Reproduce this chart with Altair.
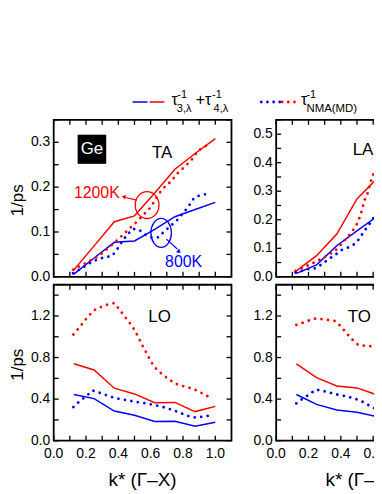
import altair as alt
import pandas as pd

FONT = "Liberation Sans"
RED = "#ff0000"
BLUE = "#0000ff"

# ---------------- data ----------------
k_line = [0.125, 0.25, 0.375, 0.5, 0.625, 0.75, 0.875, 1.0]

# TA
ta_red_line = [0.015, 0.069, 0.123, 0.136, 0.187, 0.240, 0.275, 0.308]
ta_blue_line = [0.006, 0.042, 0.077, 0.080, 0.106, 0.134, 0.150, 0.166]
ta_red_md_k = [0.12, 0.2, 0.28, 0.36, 0.44, 0.52, 0.56, 0.6, 0.65, 0.69, 0.73, 0.76, 0.85, 0.89, 0.93, 0.97]
ta_red_md = [0.016, 0.031, 0.047, 0.071, 0.098, 0.125, 0.140, 0.155, 0.185, 0.202, 0.214, 0.229, 0.259, 0.280, 0.290, 0.296]
ta_blue_md_k = [0.12, 0.2, 0.24, 0.28, 0.33, 0.36, 0.39, 0.42, 0.45, 0.49, 0.53, 0.56, 0.6, 0.65, 0.68, 0.76, 0.83, 0.87, 0.9, 0.97]
ta_blue_md = [0.008, 0.025, 0.034, 0.040, 0.045, 0.046, 0.060, 0.077, 0.092, 0.107, 0.105, 0.095, 0.088, 0.088, 0.100, 0.125, 0.155, 0.177, 0.181, 0.187]

# LA
la_red_line = [0.021, 0.074, 0.150, 0.273, 0.345, 0.410, 0.450, 0.490]
la_blue_line = [0.012, 0.042, 0.109, 0.161, 0.212, 0.250, 0.280, 0.310]
la_red_md_k = [0.12, 0.2, 0.283, 0.365, 0.43, 0.465, 0.495, 0.51, 0.527, 0.547, 0.565, 0.587, 0.602, 0.622, 0.66, 0.75, 0.85, 0.95, 1.0]
la_red_md = [0.021, 0.041, 0.064, 0.091, 0.132, 0.155, 0.179, 0.199, 0.226, 0.269, 0.292, 0.337, 0.362, 0.386, 0.400, 0.420, 0.440, 0.460, 0.470]
la_blue_md_k = [0.12, 0.2, 0.243, 0.283, 0.324, 0.365, 0.405, 0.446, 0.486, 0.515, 0.543, 0.572, 0.602, 0.628, 0.7, 0.8, 0.9, 1.0]
la_blue_md = [0.015, 0.027, 0.030, 0.044, 0.062, 0.077, 0.094, 0.103, 0.115, 0.134, 0.159, 0.181, 0.206, 0.228, 0.260, 0.290, 0.310, 0.330]

# LO
lo_red_line = [0.74, 0.68, 0.505, 0.45, 0.365, 0.368, 0.28, 0.33]
lo_blue_line = [0.445, 0.405, 0.285, 0.245, 0.185, 0.188, 0.14, 0.178]
lo_red_md_k = [0.122, 0.155, 0.187, 0.219, 0.256, 0.296, 0.335, 0.375, 0.408, 0.438, 0.469, 0.497, 0.519, 0.539, 0.56, 0.582, 0.602, 0.63, 0.667, 0.708, 0.748, 0.789, 0.829, 0.87, 0.91, 0.951]
lo_red_md = [1.022, 1.083, 1.146, 1.206, 1.26, 1.289, 1.311, 1.324, 1.26, 1.197, 1.136, 1.073, 1.01, 0.946, 0.883, 0.822, 0.759, 0.698, 0.645, 0.597, 0.552, 0.53, 0.514, 0.495, 0.464, 0.429]
lo_blue_md_k = [0.122, 0.159, 0.199, 0.24, 0.28, 0.32, 0.361, 0.402, 0.442, 0.483, 0.519, 0.56, 0.6, 0.641, 0.683, 0.724, 0.764, 0.805, 0.843, 0.884, 0.925, 0.961]
lo_blue_md = [0.324, 0.378, 0.426, 0.483, 0.464, 0.441, 0.419, 0.403, 0.393, 0.381, 0.371, 0.362, 0.35, 0.337, 0.321, 0.302, 0.279, 0.254, 0.232, 0.222, 0.232, 0.241]

# TO
to_red_line = [0.74, 0.607, 0.527, 0.508, 0.44, 0.40, 0.37, 0.36]
to_blue_line = [0.444, 0.349, 0.295, 0.273, 0.232, 0.21, 0.19, 0.18]
to_red_md_k = [0.125, 0.166, 0.207, 0.247, 0.288, 0.324, 0.362, 0.399, 0.435, 0.47, 0.506, 0.547, 0.587, 0.626, 0.7, 0.8, 0.9, 1.0]
to_red_md = [1.114, 1.136, 1.159, 1.178, 1.168, 1.162, 1.152, 1.102, 1.035, 0.975, 0.924, 0.914, 0.908, 0.902, 0.88, 0.85, 0.80, 0.75]
to_blue_md_k = [0.125, 0.166, 0.207, 0.247, 0.288, 0.328, 0.368, 0.405, 0.446, 0.486, 0.527, 0.567, 0.608, 0.7, 0.8, 0.9, 1.0]
to_blue_md = [0.359, 0.406, 0.448, 0.492, 0.479, 0.463, 0.448, 0.435, 0.422, 0.406, 0.381, 0.346, 0.311, 0.28, 0.26, 0.25, 0.25]

x_labels = [0.0, 0.2, 0.4, 0.6, 0.8, 1.0]
x_ticks = [0.1 * i for i in range(11)]
ta_labels = [0.0, 0.1, 0.2, 0.3]
ta_ticks = [0.05 * i for i in range(8)]
la_labels = [0.0, 0.1, 0.2, 0.3, 0.4, 0.5]
la_ticks = [0.05 * i for i in range(12)]
bot_labels = [0.0, 0.4, 0.8, 1.2]
bot_ticks = [0.2 * i for i in range(8)]
y_title = "1/ps"
x_title = "k* (Γ–X)"

W = 179
H_TOP = 158
H_BOT = 157
TICK = 5
XDOM = [0, 1.1]

color_scale = alt.Scale(domain=["1200K", "800K"], range=[RED, BLUE])
one = pd.DataFrame({"a": [0]})


def panel(name, red_line, blue_line, rmk, rm, bmk, bm, ydom, ylabels, yticks,
          height, bottom, left, label_pos, xtitle_cx=None):
    xsc = alt.Scale(domain=XDOM, nice=False, zero=False)
    ysc = alt.Scale(domain=ydom, nice=False, zero=False)

    def X():
        return alt.X("k:Q", scale=xsc, axis=None)

    def Y():
        return alt.Y("v:Q", scale=ysc, axis=None)

    solid = pd.DataFrame({"k": k_line * 2, "v": red_line + blue_line,
                          "T": ["1200K"] * len(k_line) + ["800K"] * len(k_line)})
    md = pd.DataFrame({"k": rmk + bmk, "v": rm + bm,
                       "T": ["1200K"] * len(rmk) + ["800K"] * len(bmk)})

    layers = []
    layers.append(alt.Chart(solid).mark_line(strokeWidth=1.5, clip=True).encode(
        x=X(), y=Y(), color=alt.Color("T:N", scale=color_scale, legend=None), detail="T:N"))
    layers.append(alt.Chart(md).mark_line(strokeWidth=2.8, strokeDash=[0.01, 6.6],
                                          strokeCap="round", clip=True).encode(
        x=X(), y=Y(), color=alt.Color("T:N", scale=color_scale, legend=None), detail="T:N"))

    # inward ticks on all four sides
    xt = pd.DataFrame({"k": x_ticks})
    yt = pd.DataFrame({"v": yticks})
    tk = dict(color="black", strokeWidth=1.3)
    layers.append(alt.Chart(xt).mark_rule(**tk).encode(x=X(), y=alt.value(height - TICK), y2=alt.value(height)))
    layers.append(alt.Chart(xt).mark_rule(**tk).encode(x=X(), y=alt.value(0), y2=alt.value(TICK)))
    layers.append(alt.Chart(yt).mark_rule(**tk).encode(y=Y(), x=alt.value(0), x2=alt.value(TICK)))
    layers.append(alt.Chart(yt).mark_rule(**tk).encode(y=Y(), x=alt.value(W - TICK), x2=alt.value(W)))

    # tick labels
    yl = pd.DataFrame({"v": ylabels, "t": [f"{v:.1f}" for v in ylabels]})
    layers.append(alt.Chart(yl).mark_text(font=FONT, fontSize=14, align="right", baseline="middle",
                                          color="black").encode(y=Y(), x=alt.value(-3.5), text="t:N"))
    if bottom:
        xl = pd.DataFrame({"k": x_labels, "t": [f"{v:.1f}" for v in x_labels]})
        layers.append(alt.Chart(xl).mark_text(font=FONT, fontSize=14, align="center",
                                              baseline="alphabetic", color="black").encode(
            x=X(), y=alt.value(height + 17.3), text="t:N"))
        layers.append(alt.Chart(one).mark_text(font=FONT, fontSize=19, align="center",
                                               baseline="alphabetic", color="black").encode(
            x=alt.value(xtitle_cx), y=alt.value(height + 45.5), text=alt.value(x_title)))
    if left:
        layers.append(alt.Chart(one).mark_text(font=FONT, fontSize=17, align="center", baseline="middle",
                                               angle=270, color="black").encode(
            x=alt.value(-35.5), y=alt.value(height / 2 + 2), text=alt.value(y_title)))

    lab = pd.DataFrame({"k": [label_pos[0]], "v": [label_pos[1]], "t": [name]})
    layers.append(alt.Chart(lab).mark_text(font=FONT, fontSize=17, color="black",
                                           baseline="middle", align="center").encode(
        x=X(), y=Y(), text="t:N"))
    return layers


# ---- TA extras ----
ge_box = pd.DataFrame({"k": [0.148], "k2": [0.325], "v": [0.252], "v2": [0.317]})
ge_txt = pd.DataFrame({"k": [0.237], "v": [0.285], "t": ["Ge"]})
temp_txt = pd.DataFrame({"k": [0.267, 0.804], "v": [0.1875, 0.034], "t": ["1200K", "800K"],
                         "T": ["1200K", "800K"]})
ell_red = pd.DataFrame({"k": [0.578], "v": [0.160]})
ell_blue = pd.DataFrame({"k": [0.665], "v": [0.098]})
arrows = pd.DataFrame({"k": [0.514, 0.697], "v": [0.171, 0.084],
                       "k2": [0.445, 0.765], "v2": [0.177, 0.062], "T": ["1200K", "800K"]})
heads = pd.DataFrame({"k": [0.437, 0.773], "v": [0.178, 0.057], "ang": [284, 131],
                      "T": ["1200K", "800K"]})

XS = alt.Scale(domain=XDOM, nice=False, zero=False)
YS = alt.Scale(domain=[0, 0.35], nice=False, zero=False)
XA = dict(scale=XS, axis=None)
YA = dict(scale=YS, axis=None)

ta_layers = panel("TA", ta_red_line, ta_blue_line, ta_red_md_k, ta_red_md, ta_blue_md_k, ta_blue_md,
                  [0, 0.35], ta_labels, ta_ticks, H_TOP, False, True, (0.671, 0.277))
ta_layers += [
    alt.Chart(ge_box).mark_rect(color="black").encode(
        x=alt.X("k:Q", **XA), x2="k2", y=alt.Y("v:Q", **YA), y2="v2"),
    alt.Chart(ge_txt).mark_text(font=FONT, fontSize=17, color="white", baseline="middle").encode(
        x=alt.X("k:Q", **XA), y=alt.Y("v:Q", **YA), text="t:N"),
    alt.Chart(temp_txt).mark_text(font=FONT, fontSize=16, baseline="middle").encode(
        x=alt.X("k:Q", **XA), y=alt.Y("v:Q", **YA), text="t:N",
        color=alt.Color("T:N", scale=color_scale, legend=None)),
    alt.Chart(ell_red).mark_point(shape="M -0.889 0 A 0.889 1 0 1 0 0.889 0 A 0.889 1 0 1 0 -0.889 0 Z",
                                  size=729, filled=False, color=RED, strokeWidth=1.3, opacity=1).encode(
        x=alt.X("k:Q", **XA), y=alt.Y("v:Q", **YA)),
    alt.Chart(ell_blue).mark_point(shape="M -0.70 0 A 0.70 1 0 1 0 0.70 0 A 0.70 1 0 1 0 -0.70 0 Z",
                                   size=864, filled=False, color=BLUE, strokeWidth=1.3, opacity=1).encode(
        x=alt.X("k:Q", **XA), y=alt.Y("v:Q", **YA)),
    alt.Chart(arrows).mark_rule(strokeWidth=1.2).encode(
        x=alt.X("k:Q", **XA), x2="k2", y=alt.Y("v:Q", **YA), y2="v2",
        color=alt.Color("T:N", scale=color_scale, legend=None)),
    alt.Chart(heads).mark_point(shape="triangle", filled=True, size=22, opacity=1).encode(
        x=alt.X("k:Q", **XA), y=alt.Y("v:Q", **YA), angle=alt.Angle("ang:Q", scale=None),
        color=alt.Color("T:N", scale=color_scale, legend=None)),
]

# legend (drawn above the TA panel, pixel offsets relative to the TA plot area)
leg_y = -18


def ltext(txt, x, y, size, color="black"):
    return alt.Chart(one).mark_text(font=FONT, fontSize=size, align="left", baseline="alphabetic",
                                    color=color).encode(x=alt.value(x), y=alt.value(y), text=alt.value(txt))


ta_layers += [
    alt.Chart(one).mark_rule(color=BLUE, strokeWidth=1.5).encode(x=alt.value(79.5), x2=alt.value(94.5), y=alt.value(leg_y)),
    alt.Chart(one).mark_rule(color=RED, strokeWidth=1.5).encode(x=alt.value(96.5), x2=alt.value(111.5), y=alt.value(leg_y)),
    ltext("τ", 118.5, -15, 16),
    ltext("-1", 124.5, -22.5, 11),
    ltext("3,λ", 124, -8, 11),
    ltext("+τ", 143, -15, 16),
    ltext("-1", 159.5, -22.5, 11),
    ltext("4,λ", 161, -8, 11),
    alt.Chart(one).mark_rule(color=BLUE, strokeWidth=2.8, strokeDash=[0.01, 6.2], strokeCap="round").encode(
        x=alt.value(209), x2=alt.value(228), y=alt.value(leg_y)),
    alt.Chart(one).mark_rule(color=RED, strokeWidth=2.8, strokeDash=[0.01, 6.2], strokeCap="round").encode(
        x=alt.value(230), x2=alt.value(248), y=alt.value(leg_y)),
    ltext("τ", 249, -15, 16),
    ltext("-1", 254.5, -22.5, 11),
    ltext("NMA(MD)", 254.5, -8, 11.5),
]

la_layers = panel("LA", la_red_line, la_blue_line, la_red_md_k, la_red_md, la_blue_md_k, la_blue_md,
                  [0, 0.55], la_labels, la_ticks, H_TOP, False, False, (0.537, 0.445))
lo_layers = panel("LO", lo_red_line, lo_blue_line, lo_red_md_k, lo_red_md, lo_blue_md_k, lo_blue_md,
                  [0, 1.5], bot_labels, bot_ticks, H_BOT, True, True, (0.655, 1.19), xtitle_cx=89.5)
to_layers = panel("TO", to_red_line, to_blue_line, to_red_md_k, to_red_md, to_blue_md_k, to_blue_md,
                  [0, 1.5], bot_labels, bot_ticks, H_BOT, True, False, (0.515, 1.19), xtitle_cx=84)

ta = alt.layer(*ta_layers).properties(width=W, height=H_TOP)
la = alt.layer(*la_layers).properties(width=W, height=H_TOP)
lo = alt.layer(*lo_layers).properties(width=W, height=H_BOT)
to = alt.layer(*to_layers).properties(width=W, height=H_BOT)

chart = alt.concat(ta, la, lo, to, columns=2, spacing={"row": 8, "column": 45}, bounds="flush").properties(
    padding={"left": 0, "top": 78, "right": -82.5, "bottom": 0},
    autosize=alt.AutoSizeParams(type="pad"),
).configure_view(stroke="black", strokeWidth=1.8)

chart.save("out.html", embed_options={"renderer": "svg", "actions": False})
